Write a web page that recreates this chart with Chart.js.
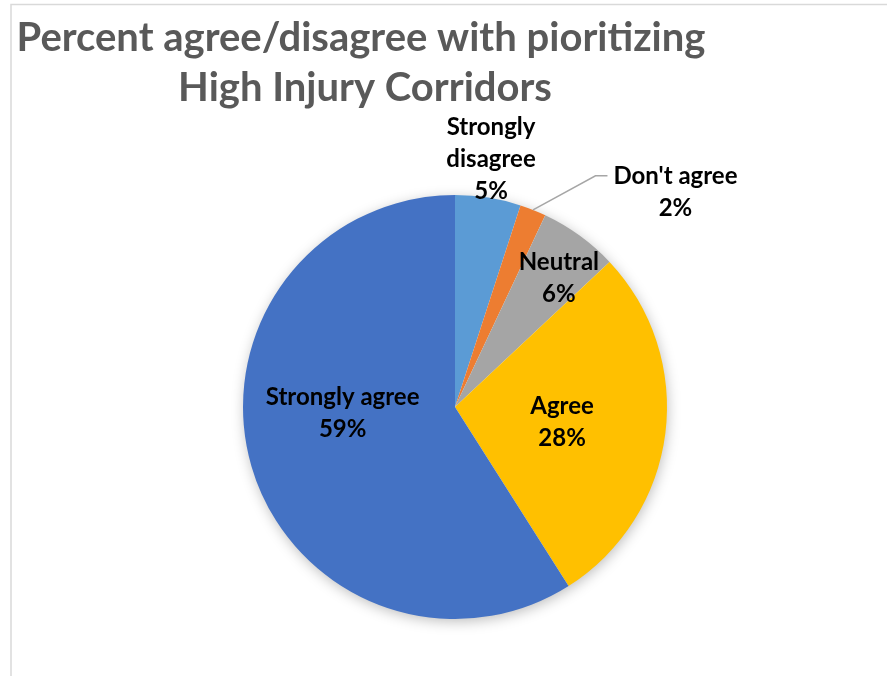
<!DOCTYPE html>
<html>
<head>
<meta charset="utf-8">
<script src="https://cdn.jsdelivr.net/npm/chart.js@4"></script>
<style>
  html, body { margin: 0; padding: 0; background: #fff; }
  #wrap { position: relative; width: 887px; height: 676px; }
</style>
</head>
<body>
<div id="wrap"><canvas id="c" width="887" height="676"></canvas></div>
<script>
// Survey answers, clockwise from 12 o'clock
const categories = ["Strongly disagree", "Don't agree", "Neutral", "Agree", "Strongly agree"];
const percents = [5, 2, 6, 28, 59];
const titleLines = ["Percent agree/disagree with pioritizing", "High Injury Corridors"];

const sliceColors = ["#5B9BD5", "#ED7D31", "#A5A5A5", "#FFC000", "#4472C4"];

// Label placement relative to the pie centre, in units of the radius
const labelPlacement = [
  { dx: 0.17, dy: -1.17, lines: ["Strongly", "disagree"] },
  { dx: 1.04, dy: -1.015, lines: ["Don't agree"], leader: true },
  { dx: 0.49, dy: -0.605, lines: ["Neutral"] },
  { dx: 0.505, dy: 0.07, lines: ["Agree"] },
  { dx: -0.53, dy: 0.03, lines: ["Strongly agree"] }
];

const LABEL_FONT = "bold 24px Lato, 'Open Sans', sans-serif";
const LINE_H = 32;

const framePlugin = {
  id: 'frame',
  beforeDraw(chart) {
    const ctx = chart.ctx;
    ctx.save();
    ctx.fillStyle = '#fff';
    ctx.fillRect(0, 0, chart.width, chart.height);
    ctx.strokeStyle = '#d9d9d9';
    ctx.lineWidth = 1.5;
    ctx.beginPath();
    ctx.moveTo(11, chart.height);
    ctx.lineTo(11, 4.5);
    ctx.lineTo(chart.width, 4.5);
    ctx.stroke();
    // title
    ctx.fillStyle = '#595959';
    ctx.font = "bold 40px Lato, 'Open Sans', sans-serif";
    ctx.textAlign = 'center';
    ctx.textBaseline = 'alphabetic';
    ctx.fillText(titleLines[0], 361, 51);
    ctx.fillText(titleLines[1], 365, 101);
    ctx.restore();
  }
};

const shadowPlugin = {
  id: 'pieShadow',
  beforeDatasetsDraw(chart) {
    const ctx = chart.ctx;
    ctx.save();
    ctx.shadowColor = 'rgba(0,0,0,0.28)';
    ctx.shadowBlur = 14;
    ctx.shadowOffsetX = 1;
    ctx.shadowOffsetY = 3;
    const arc = chart.getDatasetMeta(0).data[0];
    ctx.fillStyle = '#fff';
    ctx.beginPath();
    ctx.arc(arc.x, arc.y, arc.outerRadius - 1, 0, Math.PI * 2);
    ctx.fill();
    ctx.restore();
  }
};

const labelPlugin = {
  id: 'sliceLabels',
  afterDatasetsDraw(chart) {
    const ctx = chart.ctx;
    const meta = chart.getDatasetMeta(0);
    const first = meta.data[0];
    const cx = first.x, cy = first.y, r = first.outerRadius;
    ctx.save();
    ctx.font = LABEL_FONT;
    ctx.fillStyle = '#000';
    ctx.textAlign = 'center';
    ctx.textBaseline = 'middle';
    meta.data.forEach((arc, i) => {
      const p = labelPlacement[i];
      const lines = p.lines.concat([percents[i] + '%']);
      const x = cx + p.dx * r;
      const y = cy + p.dy * r;
      const top = y - (lines.length - 1) * LINE_H / 2;
      lines.forEach((t, k) => ctx.fillText(t, x, top + k * LINE_H));
      if (p.leader) {
        const mid = (arc.startAngle + arc.endAngle) / 2;
        const ex = cx + Math.cos(mid) * r;
        const ey = cy + Math.sin(mid) * r;
        const tw = ctx.measureText(p.lines[0]).width;
        const lx = x - tw / 2 - 6;
        const ly = top;
        ctx.strokeStyle = '#a6a6a6';
        ctx.lineWidth = 1.5;
        ctx.beginPath();
        ctx.moveTo(ex, ey);
        ctx.lineTo(lx - 12, ly);
        ctx.lineTo(lx, ly);
        ctx.stroke();
      }
    });
    ctx.restore();
  }
};

new Chart(document.getElementById('c'), {
  type: 'pie',
  data: {
    labels: categories,
    datasets: [{
      data: percents,
      backgroundColor: sliceColors,
      borderWidth: 0
    }]
  },
  options: {
    responsive: false,
    animation: false,
    layout: { padding: { top: 195, bottom: 57, left: 243, right: 220 } },
    plugins: {
      legend: { display: false },
      title: { display: false },
      tooltip: { enabled: false }
    }
  },
  plugins: [framePlugin, shadowPlugin, labelPlugin]
});
</script>
</body>
</html>
